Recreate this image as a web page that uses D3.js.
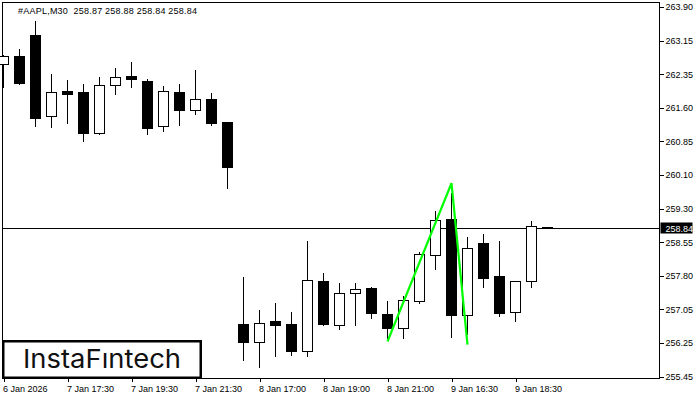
<!DOCTYPE html>
<html>
<head>
<meta charset="utf-8">
<script src="https://cdn.jsdelivr.net/npm/d3@7"></script>
<style>
  html, body { margin: 0; padding: 0; background: #fff; }
  svg { display: block; }
</style>
</head>
<body>
<svg id="chart" width="700" height="400"></svg>
<script>
// ---- data ----
const symbolTitle = "#AAPL,M30";
const lastOHLC = ["258.87", "258.88", "258.84", "258.84"];

const candleTimes = [
  "6 Jan 22:00","6 Jan 22:30","7 Jan 16:30","7 Jan 17:00","7 Jan 17:30","7 Jan 18:00","7 Jan 18:30","7 Jan 19:00",
  "7 Jan 19:30","7 Jan 20:00","7 Jan 20:30","7 Jan 21:00","7 Jan 21:30","7 Jan 22:00","7 Jan 22:30",
  "8 Jan 16:30","8 Jan 17:00","8 Jan 17:30","8 Jan 18:00","8 Jan 18:30","8 Jan 19:00","8 Jan 19:30","8 Jan 20:00",
  "8 Jan 20:30","8 Jan 21:00","8 Jan 21:30","8 Jan 22:00","8 Jan 22:30",
  "9 Jan 16:30","9 Jan 17:00","9 Jan 17:30","9 Jan 18:00","9 Jan 18:30","9 Jan 19:00","9 Jan 19:30"
];
const opens  = [262.59,262.78,263.26,261.39,261.98,261.95,261.02,262.10,262.32,262.21,261.17,261.95,261.53,261.79,261.27,
                256.66,256.24,256.71,256.66,256.02,257.63,256.62,257.34,257.47,256.87,256.54,257.16,258.24,259.05,256.86,
                258.50,257.74,256.91,257.64,258.87];
const highs  = [262.80,262.94,263.58,262.37,262.23,262.14,262.29,262.50,262.64,262.25,262.09,262.14,262.46,261.94,261.27,
                257.72,256.96,257.12,256.92,258.54,257.81,257.58,257.58,257.49,257.17,257.28,258.30,259.24,259.65,258.63,
                258.71,258.55,257.63,259.01,258.88];
const lows   = [262.07,262.14,261.18,261.16,261.25,260.84,261.00,261.91,262.07,261.00,261.07,261.20,261.46,261.20,259.75,
                255.82,255.66,255.92,255.94,255.92,256.62,256.53,256.62,256.79,256.33,256.33,257.13,257.91,256.35,256.43,
                257.49,256.83,256.72,257.49,258.84];
const closes = [262.78,262.17,261.37,261.95,261.91,261.02,262.11,262.29,262.24,261.14,261.98,261.53,261.79,261.25,260.24,
                256.24,256.68,256.62,256.05,257.65,256.64,257.35,257.44,256.90,256.56,257.19,258.24,259.04,256.85,258.40,
                257.70,256.90,257.63,258.89,258.84];

const lastPrice = 258.84;

// pattern line (index of candle, price)
const patternIdx = [24, 28, 29];
const patternPrice = [256.25, 259.87, 256.18];

const xTickIdx = [0, 4, 8, 12, 16, 20, 24, 28, 32];
const xTickLabels = ["6 Jan 2026","7 Jan 17:30","7 Jan 19:30","7 Jan 21:30","8 Jan 17:00","8 Jan 19:00","8 Jan 21:00","9 Jan 16:30","9 Jan 18:30"];
const yTickLabels = ["263.90","263.15","262.35","261.60","260.85","260.10","259.30","258.55","257.80","257.05","256.25","255.45"];
const yTop = 263.90, yBottom = 255.45;

// ---- layout ----
const svg = d3.select("#chart");
const plot = { left: 2.5, top: 2.5, right: 659.5, bottom: 378.5 };

const x = d3.scaleLinear().domain([0, 41]).range([3.5, 659.5]);
const y = d3.scaleLinear().domain([yBottom, yTop]).range([376.5, 7]);
const snap = v => Math.round(v) + 0.5;

const candles = candleTimes.map((t, i) => ({ i, t, o: opens[i], h: highs[i], l: lows[i], c: closes[i] }));

// frame
svg.append("rect")
  .attr("x", plot.left).attr("y", plot.top)
  .attr("width", plot.right - plot.left).attr("height", plot.bottom - plot.top)
  .attr("fill", "#fff").attr("stroke", "#000").attr("stroke-width", 1);

// last price line
svg.append("line")
  .attr("x1", plot.left).attr("x2", plot.right)
  .attr("y1", snap(y(lastPrice))).attr("y2", snap(y(lastPrice)))
  .attr("stroke", "#000").attr("stroke-width", 1);

// candles
const g = svg.append("g").attr("shape-rendering", "crispEdges");
g.selectAll("line.wick").data(candles).join("line")
  .attr("class", "wick")
  .attr("x1", d => x(d.i)).attr("x2", d => x(d.i))
  .attr("y1", d => Math.round(y(d.h))).attr("y2", d => Math.round(y(d.l)) + 1)
  .attr("stroke", "#000").attr("stroke-width", 1);

g.selectAll("rect.body").data(candles).join("rect")
  .attr("class", "body")
  .attr("x", d => x(d.i) - 5)
  .attr("y", d => snap(y(Math.max(d.o, d.c))))
  .attr("width", 10)
  .attr("height", d => Math.max(1, Math.round(Math.abs(y(d.o) - y(d.c)))))
  .attr("fill", d => d.c < d.o ? "#000" : "#fff")
  .attr("stroke", "#000").attr("stroke-width", 1);

// pattern line
svg.append("path")
  .datum(patternIdx.map((d, k) => [d, patternPrice[k]]))
  .attr("d", d3.line().x(d => x(d[0])).y(d => y(d[1])))
  .attr("fill", "none").attr("stroke", "#00ff00").attr("stroke-width", 2.2);

// y axis
const yTickVals = yTickLabels.map((_, k) => yTop - k * (yTop - yBottom) / 11);
const yAxis = svg.append("g")
  .attr("transform", `translate(${plot.right},0)`)
  .call(d3.axisRight(y).tickValues(yTickVals).tickSize(4).tickPadding(2)
    .tickFormat((d, k) => yTickLabels[k]));
yAxis.select(".domain").remove();
yAxis.selectAll(".tick line").attr("stroke", "#000").attr("shape-rendering", "crispEdges");
yAxis.selectAll("text").attr("font-family", "Liberation Sans, Arial, sans-serif").attr("font-size", 9).attr("fill", "#000");

// last price label
const lp = svg.append("g").attr("transform", `translate(${plot.right + 1},${snap(y(lastPrice))})`);
lp.append("rect").attr("x", 0).attr("y", -6).attr("width", 32).attr("height", 11).attr("fill", "#000");
lp.append("text").attr("x", 5).attr("y", 3.5)
  .attr("font-family", "Liberation Sans, Arial, sans-serif").attr("font-size", 9).attr("fill", "#fff")
  .text(lastPrice.toFixed(2));

// x axis
const xAxis = svg.append("g")
  .attr("transform", `translate(0,${plot.bottom})`)
  .call(d3.axisBottom(x).tickValues(xTickIdx).tickSize(3).tickPadding(4)
    .tickFormat((d, k) => xTickLabels[k]));
xAxis.select(".domain").remove();
xAxis.selectAll(".tick line").attr("stroke", "#000").attr("shape-rendering", "crispEdges");
xAxis.selectAll("text").attr("text-anchor", "start").attr("x", -1)
  .attr("font-family", "Liberation Sans, Arial, sans-serif").attr("font-size", 9).attr("fill", "#000");

// header
svg.append("text")
  .attr("x", 18).attr("y", 14)
  .attr("font-family", "Liberation Sans, Arial, sans-serif").attr("font-size", 9).attr("fill", "#000")
  .attr("textLength", 179).attr("lengthAdjust", "spacing")
  .style("white-space", "pre")
  .text(symbolTitle + "  " + lastOHLC.join(" "));

// logo
svg.append("rect").attr("x", 3.25).attr("y", 341.25).attr("width", 197.5).attr("height", 36.5)
  .attr("fill", "#fff").attr("stroke", "#000").attr("stroke-width", 2.5);
svg.append("text").attr("x", 23).attr("y", 368)
  .attr("font-family", "Inter, sans-serif").attr("font-weight", 400).attr("font-size", 26).attr("fill", "#111")
  .attr("textLength", 158).attr("lengthAdjust", "spacingAndGlyphs")
  .text("InstaFıntech");
</script>
</body>
</html>
